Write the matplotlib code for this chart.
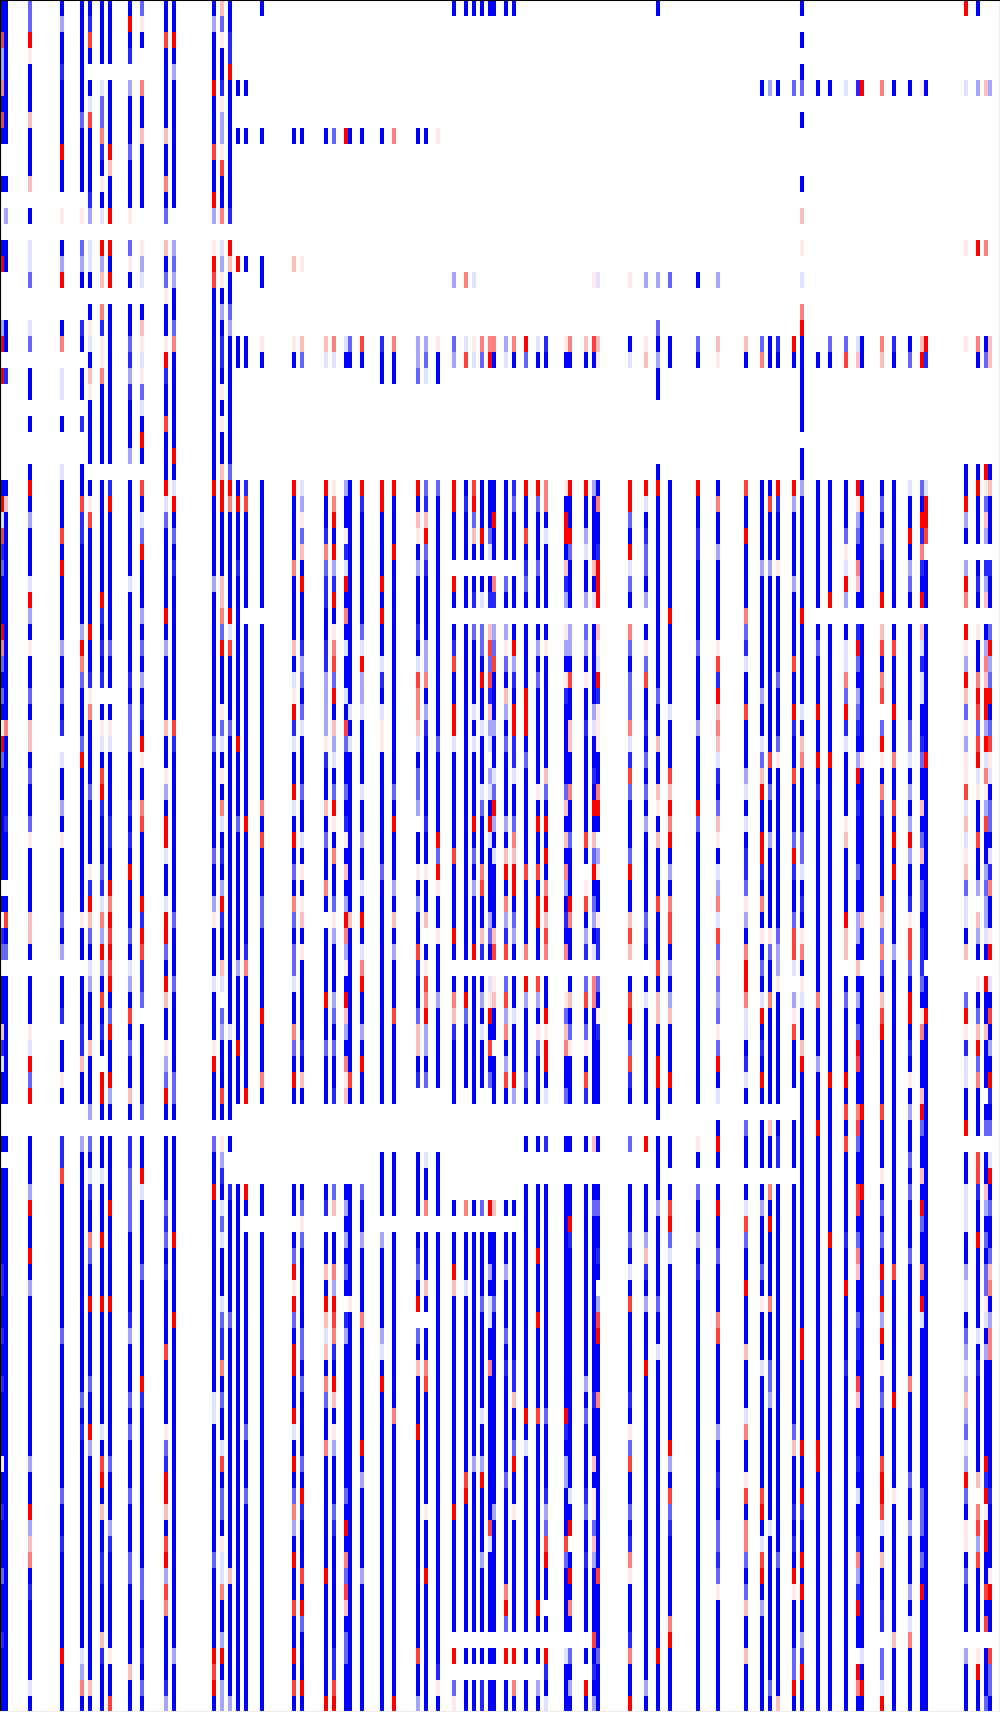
import numpy as np
import matplotlib
matplotlib.use('Agg')
import matplotlib.pyplot as plt

n_rows = 107
n_cols = 250
section_rows = [18, 30, 30, 29]

shades = {'B': -1.0, 'D': -0.85, 'M': -0.6, 'L': -0.35, 'P': -0.12,
          'W': 0.08, 'Q': 0.25, 'O': 0.5, 'S': 0.75, 'R': 1.0}

# columns that hold any cell, the rest of the grid is empty
column_ids = [0, 1, 7, 15, 20, 22, 25, 27, 32, 35, 41, 43, 53, 55, 57, 59, 61, 65,
              73, 75, 81, 83, 86, 87, 90, 95, 98, 104, 106, 109, 113, 116, 118, 120,
              122, 123, 126, 128, 131, 134, 136, 141, 142, 146, 148, 149, 157, 161,
              164, 167, 174, 179, 186, 190, 192, 194, 198, 200, 204, 207, 211, 214,
              215, 220, 223, 227, 230, 231, 241, 244, 246, 247]

# one string per column, four blocks of rows separated by a space
column_cells = [
    "BBSLLOBSB..B...BR. ..LR.R......BRPSDMBBBROMBMBWRM BBBBBBB.B.DM.BBBQDPBB..B.BBBBB BDDBBDBBDBBBBWBBDBBBMBBBDBBBB",
    "BBBBBBBBB..B.L.BB. ..BB.D......BQBBBBBBBBBBBBBOBB BBBDBBB.BSBM.BBBBBBBB..B.BBBBB BBBBBBBBBBBBBBBBBBBBBBBBBBBBB",
    "MMRWBBBQBBBQ.B.PPM ..PM.BB.B..BRBLBBBPRLBWBBMBQQB MBBMWBBBBQQB.BBBWPRMR..BBBLRBB RBLBBBBBBBBBBLBBRLQOBDBBBBBPB",
    "BLBBDBBBBRBB.W.BLR ..BO.PP.B..PBBBSBRBBBBLBBMBD.P BBLBWBBBBMBL.BBD.BBWB..DDSBBBB BBBBBMBBBBBBBBBMBBDBBBBBBRBBB",
    "BBBBBBBMBBBB.W.MLB ..DB.BB.D..BBSDDBBBBBLROMBBBMR BBBBBBBBBWBB.BBBDDQBB..LBBBBBB BBBBBBBBBMBDBBBBBBBBBBBBBPLOB",
    "BDSB.BPSBBBBDL.PPB .BWPBQWBBBB.BWSBBBBBBRBBDWOBBB BMBBBBWDRQMBPLBBBQBBBL.MBPDBBO MBBRBBBBMBBRLBBBBBBBBBBBBBBQB",
    "BBBB.PMMODBWBP.RLQ .ODWWOBBBBB.BBBBBBBRDBDBD.BWPB SRDBBBMDPOLRLBSBDB.RRB.BBPBBBR BBBRBBBBBBBPBSRBQBBDDBBBQDBBB",
    "BBBB.BBBBRQBBR.RBR .BBBBBBBBBB.DRBBBBBBBBMBB.BWPB BBBDDBBRORSRSRBMRBBRLB.BBBBRBB BBBRBBBBBBBBBMBBBLDBBBBBBWBBS",
    "BRBD.LBBBMBBBW.MWB .BBMDLDBBBL.BBBBBBPBBBBBDBMMMB BBDBDBRBBBMBPLBSBMBBQB.DDMMMMB BBBBDLBBBMBMBBBMBBBMMBBBBBQBB",
    "MWB..OBBQBBBB..WLP .BQWPWMPBRB.SBPMRBBBLBMBLBDBRW BBOSBBBBRDRSDDM.BBBBBM.BBRPBBB BMBBBBBBRDBBBBBBBBBBMMBBBDBMB",
    "BBSBBBBBQBBOBM.QBM WBBWRDBBSBBBRPMBBBBBRBLBBBBQBB WLBRRPBBPRRMBRQBBWLMRB.BBBBMDM BDBBBBSBBBBWMDRRQBSRLSOBBBBDL",
    "BBRBLBBBBBBBB..LML BBMOBBBBBBRBPRBMBDBBBBBBBBBSDB BBBBBBBBBMBBBMBBBBBMMB.BBBBBBR BBBBRBBBBBBBBBBBBBBBBBBBBLBBB",
    "BLBBBRBBBSBBRL.WRS BBBBBBBBBBBBRBBBBBLBBBBBBBBBMB BBBBBMBBLWBBBPBBBWRBBB.MBBRBBB BBBBBBBBBPPBBBBBBBBMBBBBBRSRB",
    "QMWBBDWLLWSBBO.PLW BLBDDBWBWBBQRRBBBBQQOMRBBBWMPB WBOPBDBLRDBBQP.MLBBBSB.WLDBPMP BBBPMDDOBMBBPSBMMBWPPOBBLRBLL",
    "BBDDRBBBBBBBBD.RQB BMLBBBBBBBBMROBBBBBBRPSBBBBMBB BBBBBBBBBBBBBBBBPBBBBB.B..DBBB BBBBMBBBBBBBBBBBBBBBQBBBBBBBL",
    ".....B..B.......R. ...BB.......BRBBBDBBBBBBBBBBRB BBBMBBBBBBBBLBBBBRBBB.....BBBB BBBBBBBBBBBBBBBBBBBBBBBBBBBBB",
    ".....B..B.......B. ...BB.......DSBBBBBB.BBBBBBBBB BBBRBBBBBBBDOBBBBBBBR.....RB.B BBBBBBBBBBBMBBBMBBBBBBBBBBBBB",
    "B.......B.......BB ...WB.......BBBBBBBB.BBBBBBBBB BBOBSBBBMMBBBBBRBBBOB.....BB.B BBBBBBBBBBBBBBBBBBBBBBBBBBBBB",
    "........B.......Q. ...WB.......RBBBBOBBBBQBPWRDPB BRPBRBMBOMBMMPBBOMBRB.....BB.B MRWRMBRRBBRPBRBMOLBRBBSBBRBSB",
    "........B.......W. ...QM.......PLWMQBRBBBDLMBMPBB BMBBPBWBWQBWBBBBBDBQB.....BMWM BBBBBMMBMBBBBMBRDBBBSBRMBBBRB",
    "........B......... ...QP.......RBBDOMDDBBDDLLLLWD BBQBMBBOB.BBBBRBBMBBB.....BD.B BQBRQPQBOMBBOBBBBBBBRBBBBBBBR",
    "........M......... ...OP.......WORBRLDRBWOSMRBQLP BMRWBOBBMWLBBBLMBMBBD.....MQ.B BOLRSODBRQBWLBBBMDBBBBBBBDDSR",
    "........R......... ...PB.......LBBWDPRBOBPBBPBSMB BMBDWBQBLROLWBRQLBOWQ.....BLBL BMB.DLBBBBBBBBBMBRBOMSQBMMBBB",
    "........B......... ...MB.......BBBBBBBBBBBBBBPBPB BBBBBBBBBQBBBBBBBBBSB.....BBBB BBBWBBBBBBBBBBBBBBBBBBBBBBBBB",
    "........B......... ...SB.......RDBBBBBBBMPRLLPBBB BPBBLBBPBRBPORBBLBRBB.....MBBL BBBBOBBBBBBBRBLBBBBBLBBBBBBBB",
    "........B......... ...DBB......RRBBBBRBRBBPDBPWWB BBBBBBMBBBBBBBBBBBBBB...BBBB.L BBBBBLPBRBBBBBBBBBBBBBBBBBBBB",
    "........O......... ...OBB......RBBBRBBBBBBBBBBBBB BMBRBBBLBQBLBBBSBBBBB...BBBB.B BBBBBBBBBBOBBBBBBBBBBBBBBBBBR",
    "........B......... ...LLM......RBQWBLBBBDBPSOOQPB MML.BBWBLBBSDBBMQQBD....BBBB.B DMBR.MBQBBBRBBBBBBBBBBBBBSBBL",
    "........B......... ...LMP......MDQRMDBBBBLLOBLDBB BBBDBBWBBQ.BWSORLLBM....PBBO.B BBQB.BBOSBBBBBBBWBBBRBBBBBBBB",
    "........W......... ...WBB......MBBBBBBBBBBBBBBBMB BBBBRMRWBBWBBBLBBBBB....BBBB.B BBBBBBBBBBBBBBBBBBBBBBBBBBDWB",
    "B................L ...ML.......RRBBB.RB.BDSBBRRPB BBBBBSBBBBRB.BOQDBBBB......B.B BRQBBBBBBBBBBBBBRBBBBBBB.R.MW",
    "B................O ...PS.......BDBBB.BB.BBBBBBBBB BBBBBBBBBBBB.BRMBBBB.......O.B BBPBBBBBBBBBBBSRBBBBBBBB.B.BB",
    "B................P ...WP.......SRMQB.BD.MBBBBPBPB BBBRBMBLBBBR.BBBBBBBB......B.B BBBBBBBBBBBBBLBBBBBBBBBB.B.BB",
    "B................. ...OM.......BBBRB.BP.MMBRBBPBB BPMBBBOSBBQD.BLBPBBB.......M.B BBBMBBBBBBPBBLRBBBBLBBBB.B.DD",
    "B................. ...OR.......BBBMP.BD.QSMSDQLP. LPBRPBBBBLMB.PWRBSBM.......R.B BLBPPBBOBBBBBBBBBSPBBBBB.B.BB",
    "B................. ...OB.......BBRBB.OD.LMSBBBLBB PMRLBPBBBBQS.WQBB.BBB......Q.B BBBMBBBBBBBBBBBBLBBBBBBB.B.BB",
    "B................. ...LP.......BBBBB.MB.LWMBQLBMB BBBLBQRBOLDS.MSLOBLSB......B.B BLBBBMBDBBBBBBMBBBBBBORM.R.BB",
    "B................. ...OB.......DMBBB.BB.BRLDBRRDD PBBMOQRRBMLB.BBPBBBRL......B.B BBBBBBBDDQBBMRBBWBBBBBBB.R.OB",
    ".................. ...RM.......RBBSBDMB.BBBBRRRBM BBBBBBSBBBBO.RLBBBBMB..B..BBBB BBBBBBBBBBRBPBBBBBBBBBBB.B.BB",
    ".................. ...PB.......RMBBBMBB.BLBMBBBBB BWBRBBSBRRBB.SLBWMBBB..B..BBBB RBBBRBBBBBSBBBBBBBBBBBRB.B.LB",
    ".................. ...DB.......OOBPBBBB.BWBBBBBBB QMBRBRBORQSO.BBRWRRBP..D..BBBB BBBBBBBBBBMBBBBDLMSRBB.B.RDBP",
    ".................. ...WB.......WBRRBQDL.WLBWDBBBB BMQBQBOLBDBO..WMQOBBM..B..BBBB BBBBBBBBBBRDBLLBBBSMBBBB.PBBB",
    ".................. ...OB.......RBBRMBBB.LLBSBBQQB BOBBMBBBROBB.BQBMWBBB..B..BBRD BBBBBBBBBBBBBBBPBR.BRBOB.MBLB",
    ".................. ...QB.......RBBLPBBL.MLBWBBDBB BBBBSB.WSBLD.MSBMWBSD..B..BBBB BBBBBBBBLBMBBBBDMBBDBBBB.B.RB",
    ".................W ...SB.......LBBBBQBP.BBBBBLPBB DBRBQMRBMLBP.OOBBBBBB..Q..BMBB BBBBBBBBBDBBBQBWWMQLBBBBSBDBL",
    ".................P ...QW.......BOBBDRRR.QWPRDWWWB BORB.LWBBWDD.MBWDBBBB..B..BMBB DB.LSRBBBOBBBBBBBBBBSBBBBMBBB",
    ".................W ...BP.......RRMBRPMB.OMBMMMOPD SMBBBMRBBQSQ.BSRBMSDB..M..BBBM BPBSBBBBBDBWMSBBMBDOWBBBDOBBR",
    ".................L ...WQ.......RPBDMMBL.BWMSBBDBM BMBLBBBBBMDB.BPBBBBBB..R..BBBL QDBLBBBRBBBBBBBBBBBBBBBBBBBLB",
    "B................L ..MBLBB....BRBBBBBBBBBBBBMBBQB BQWBQBBBSBBBSBQQBBRRBB.BBBBLBB BBBMBBPBBBBBBBBBBBBBBBBBBRBBB",
    ".................M ...BB.......BBBBBBBBRBBBBBPBBB SQRORBLBOSSBLBLQBBBRB..BB.BSRM PBBBBBBBBBBBRLBSMDBBBBBORBBBB",
    ".................B ...MB.......RBBDDBBBBBMBBBBLBB BBRMBBBBBBBBBBBBBBBBB..WB.MBBL BDBBBBBBBBBBBBBBBBBBBBBBBBBBB",
    ".................L ...QW.......BOBBLBBBBBWSDRQOQP DBMQWBPLOPSMQMLMWMRBP.BRB.BRBB MBBBOSBBBBBLBBDBBMMDMWBBBBBBB",
    ".................. ...QB.......SBBRBBBBOMDPBBSBBB LPBPBDDMWLBORROPPBDPB.MBB.BPSM BBRBBBQBBBPOBBWSBOOMBMQBBQBBB",
    ".....B............ ...MO.......BBBBBLBBBBBBBLBBPM QRBBRRDBOBWBMBPRBDBRB.BBB.BLBB BMBWBBBPBBBBBBBSRBPSRBLBBBBBB",
    ".....L............ ...BB.......BSBBBLBBBBBBBBBBBS BMBBLBBBBBWMBBOBBBBBB.QBB.OBRB BBBOBBBMMLBBBBBBBPBBBBBBBBBMB",
    ".....B............ ...DB.......RDBBBWBBBBBBMBBBMW BBBBBBBBBBMLLWBBBBBBB.BDD.BBBB BBBBBBBBBBBBBBBBBBBMBBBBBBBBQ",
    ".....M............ ...RB.......RLBBBBLBBBBSBBRDBB SBBBMRDBBMSSP.LWSBBB..BBB.BBBB BBBBBBBBBBBMQBBBDBDBRWBBBMMRB",
    "B.B.BM.B...B.Q.W.P .ORBBBBBB.BBLBBBBBBBRBBBBBPBQO BBBBMMPBDBWOBWPBBQRBBBBBBBBBBB BBBBBRRBBBBBRBBRDBBRBRBBLDRBB",
    ".....B............ ....B.......BBBBBBBB.BMBBBRBBR BDBBBBBBBBBBBBOBBBLBBBRBBBBBBB BBBBBBBBBBBBRRBBBBBBBBBBBBBBB",
    ".....B............ ...MB.......BBBBBBBR.BBBBBBBBR BBBBBBBBBBBBBBBBBBBRBBBBBBBBBR BBBBBBBBBBBBBBBBBBBBBBBBBBBBB",
    ".....P............ ...MS.......BBBMWPRL.BPPOMRDPB BBBWQBBBBRQQ.BMBBBBRBSBSBBBBBD BBRBBBBDBBBBBBBBBBBBBBBBBBBBB",
    ".....D............ ...PQ.......RWLMBOQB.DRMBLMDBL RBDBBBMBBLLBQBLBMRSBBOSMBBSSBM OQBBMDDBSQBBBDBPBBDOLDRBB.ROB",
    ".....R............ ...BB.......BRBBBBBB.BBBBBBBBW BBBBBBBBBQBB.BBBBBBBBRBBBBRBBB BBBBBBBBBBBBBBBBBBBBBBBBBPBRB",
    ".....O............ ...OQ.......BMBLDBBR.QSBOS.MRW BODBBBBBOQMOMBQSRBBBBSBBBWBMBM BRDRLRBWDMBBBSRRSPBQBBDD.MMPR",
    ".....B............ ...DB.......BBBBBBBB.BSBBBRBBO BBSBRBRBBBBLBBBBBBBBBBBBBBBBBB BSBBBBBBBRBBBBBWBBBBBBBBQBBBB",
    ".....B............ ...BM.......PBBRBLMB.BBBBBBMMP BLBLRLBBDWSSMBRRBDBWBLBBMBMBBB MBBBBBBBOBBBBBMBBLBBBLBPOBBBB",
    ".....W............ ...QR.......MBRDODBR.QPDPPBBDM BBQBMQBMMBDDDMBWOBBBQRMBBQBRMB BOBRPBBBBBBBBBBMMMBMBRBBBBBBB",
    ".....B............ ...RD.......PRRS.BBB.BBBBBBBBR BBBBBBBBBBBB.BBRBBBBBBBBBBBBBB BBBBBBBBBBBBBBBBBBBBBBBBBBBBB",
    "R....P.........W.. ...W.......BBRLB.LRO.RWLRQMWLW WSPQPWQMPPBQ..MRWDPPBBR.BBPPPB BLPPBMLPLQLMPLRMBWWBMBBB.LBBB",
    "B....L.........R.. ...OB......BRBBB.BDB.WBBORSMSR PWBBSBBL.QLB.WBMQRMOBBB.SSDBBR BBBBBPBDBBBBBBQ.OSLSBBBB.WRBB",
    ".....Q.........O.. ...BM......RWMQL.DLQ.BLOQRRLRP OWLSBBLMLLPB.RBBQBBB.BM.BBQLBM BMMWPBLBBBBBBRDRWRRBBSBS.BBBM",
    ".....L............ ...QQ......BQBBB.DBB.MRLMRBMSW PBMMBPDOBBWR.PBSBLBRDBM.PRBMBB MQOBLOOBBBBBBBBDBBBBWRBB.SMMB",
]

grid = np.full((n_rows, n_cols), np.nan)
for col, cells in zip(column_ids, column_cells):
    blocks = cells.split(' ')
    row = 0
    for block, size in zip(blocks, section_rows):
        if len(block) != size:
            print('column', col, 'block has', len(block), 'wanted', size)
        for offset, letter in enumerate(block[:size]):
            if letter in shades:
                grid[row + offset, col] = shades[letter]
        row += size

fig = plt.figure(figsize=(10, 17.12), dpi=100)
ax = fig.add_axes([0, 0, 1, 1])
cmap = plt.get_cmap('bwr').copy()
cmap.set_bad('white')
ax.imshow(np.ma.masked_invalid(grid), cmap=cmap, vmin=-1, vmax=1, aspect='auto',
          interpolation='nearest')
ax.set_xticks([])
ax.set_yticks([])
for side in ['top', 'left']:
    ax.spines[side].set_color('black')
    ax.spines[side].set_linewidth(1.5)
for side in ['right', 'bottom']:
    ax.spines[side].set_color('#eeeeee')
    ax.spines[side].set_linewidth(1.5)
fig.savefig('out.png', dpi=100)
